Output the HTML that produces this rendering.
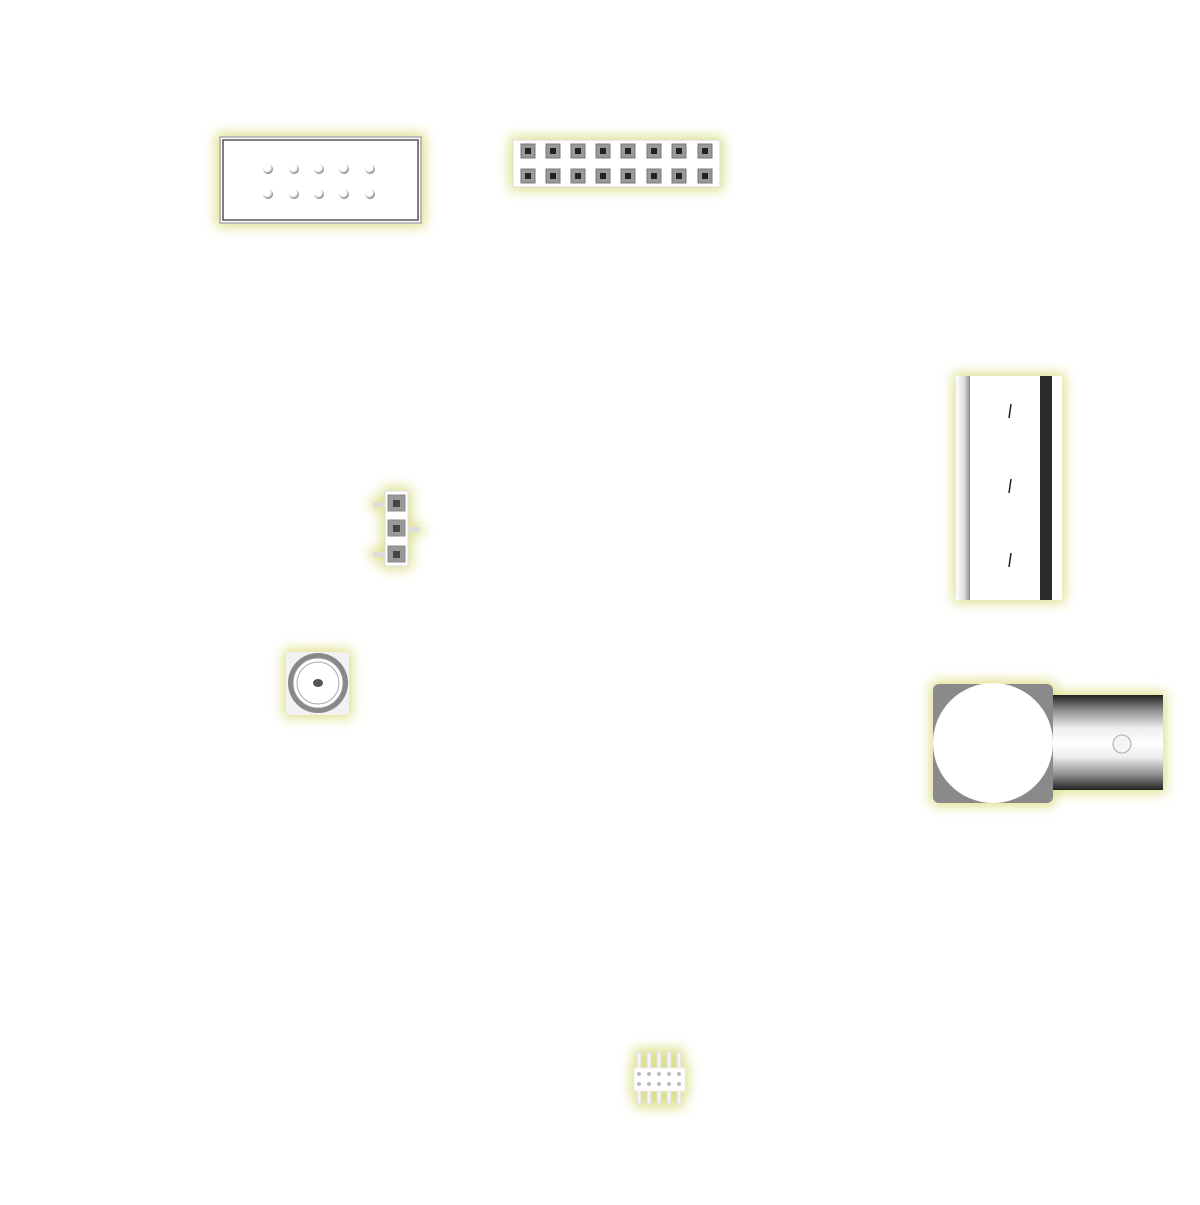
<!DOCTYPE html>
<html><head><style>body{margin:0;background:#fff}</style></head><body>
<svg width="1200" height="1200" xmlns="http://www.w3.org/2000/svg">
<defs>
<filter id="g" x="-30%" y="-30%" width="160%" height="160%">
<feMorphology in="SourceAlpha" operator="dilate" radius="3" result="d"/>
<feGaussianBlur in="d" stdDeviation="6" result="b"/>
<feFlood flood-color="#dde08a"/>
<feComposite in2="b" operator="in" result="s"/>
<feMerge><feMergeNode in="s"/><feMergeNode in="SourceGraphic"/></feMerge>
</filter>
<linearGradient id="tube" x1="0" y1="0" x2="0" y2="1">
<stop offset="0" stop-color="#222"/><stop offset="0.15" stop-color="#888"/><stop offset="0.35" stop-color="#eee"/><stop offset="0.5" stop-color="#fff"/><stop offset="0.65" stop-color="#eee"/><stop offset="0.85" stop-color="#888"/><stop offset="1" stop-color="#222"/>
</linearGradient>
<linearGradient id="lstrip" x1="0" y1="0" x2="1" y2="0">
<stop offset="0" stop-color="#fff"/><stop offset="0.6" stop-color="#ddd"/><stop offset="1" stop-color="#888"/>
</linearGradient>
<radialGradient id="pin" cx="0.4" cy="0.35" r="0.7"><stop offset="0.5" stop-color="#fff"/><stop offset="1" stop-color="#666"/></radialGradient>
</defs>
<!-- IDC -->
<g filter="url(#g)">
<rect x="220" y="137" width="201" height="86" fill="#fff" stroke="#bbb" stroke-width="2"/>
<rect x="223" y="140" width="195" height="80" fill="none" stroke="#555" stroke-width="1.5"/>
<g fill="url(#pin)">
<circle cx="268" cy="169" r="5"/><circle cx="294" cy="169" r="5"/><circle cx="319" cy="169" r="5"/><circle cx="344" cy="169" r="5"/><circle cx="370" cy="169" r="5"/>
<circle cx="268" cy="194" r="5"/><circle cx="294" cy="194" r="5"/><circle cx="319" cy="194" r="5"/><circle cx="344" cy="194" r="5"/><circle cx="370" cy="194" r="5"/>
</g></g>
<!-- 2x8 header -->
<g filter="url(#g)">
<rect x="513" y="140" width="207" height="47" fill="#fff" stroke="#ddd"/>
<g fill="#999" stroke="#777">
<rect x="521" y="144" width="14" height="14"/><rect x="546" y="144" width="14" height="14"/><rect x="571" y="144" width="14" height="14"/><rect x="596" y="144" width="14" height="14"/><rect x="621" y="144" width="14" height="14"/><rect x="647" y="144" width="14" height="14"/><rect x="672" y="144" width="14" height="14"/><rect x="698" y="144" width="14" height="14"/>
<rect x="521" y="169" width="14" height="14"/><rect x="546" y="169" width="14" height="14"/><rect x="571" y="169" width="14" height="14"/><rect x="596" y="169" width="14" height="14"/><rect x="621" y="169" width="14" height="14"/><rect x="647" y="169" width="14" height="14"/><rect x="672" y="169" width="14" height="14"/><rect x="698" y="169" width="14" height="14"/>
</g>
<g fill="#222">
<rect x="525" y="148" width="6" height="6"/><rect x="550" y="148" width="6" height="6"/><rect x="575" y="148" width="6" height="6"/><rect x="600" y="148" width="6" height="6"/><rect x="625" y="148" width="6" height="6"/><rect x="651" y="148" width="6" height="6"/><rect x="676" y="148" width="6" height="6"/><rect x="702" y="148" width="6" height="6"/>
<rect x="525" y="173" width="6" height="6"/><rect x="550" y="173" width="6" height="6"/><rect x="575" y="173" width="6" height="6"/><rect x="600" y="173" width="6" height="6"/><rect x="625" y="173" width="6" height="6"/><rect x="651" y="173" width="6" height="6"/><rect x="676" y="173" width="6" height="6"/><rect x="702" y="173" width="6" height="6"/>
</g></g>
<!-- vertical connector -->
<g filter="url(#g)">
<rect x="956" y="376" width="106" height="224" fill="#fff"/>
<rect x="956" y="376" width="14" height="224" fill="url(#lstrip)"/>
<rect x="1040" y="376" width="12" height="224" fill="#2a2a2a"/>
<g stroke="#222" stroke-width="1.5"><line x1="1011" y1="404" x2="1009" y2="418"/><line x1="1011" y1="479" x2="1009" y2="493"/><line x1="1011" y1="553" x2="1009" y2="567"/></g>
</g>
<!-- 3 pin -->
<g filter="url(#g)">
<rect x="373" y="502" width="12" height="5" fill="#ddd"/><rect x="373" y="552" width="12" height="5" fill="#ddd"/><rect x="408" y="527" width="12" height="5" fill="#ddd"/>
<rect x="385" y="491" width="23" height="75" fill="#fff" stroke="#ddd"/>
<g fill="#999" stroke="#888"><rect x="388" y="495" width="17" height="16"/><rect x="388" y="520" width="17" height="16"/><rect x="388" y="546" width="17" height="16"/></g>
<g fill="#444"><rect x="393" y="500" width="7" height="7"/><rect x="393" y="525" width="7" height="7"/><rect x="393" y="551" width="7" height="7"/></g>
</g>
<!-- SMA -->
<g filter="url(#g)">
<rect x="286" y="652" width="63" height="63" rx="4" fill="#f2f2f2"/>
<circle cx="318" cy="683" r="30" fill="#888"/>
<circle cx="318" cy="683" r="25" fill="#fff" stroke="#999"/>
<circle cx="318" cy="683" r="21" fill="none" stroke="#aaa"/>
<ellipse cx="318" cy="683" rx="5" ry="4" fill="#555"/>
</g>
<!-- BNC -->
<g filter="url(#g)">
<rect x="1053" y="695" width="110" height="95" fill="url(#tube)"/>
<rect x="933" y="684" width="120" height="119" rx="6" fill="#8a8a8a"/>
<circle cx="993" cy="743" r="60" fill="#fff"/>
<circle cx="1122" cy="744" r="9" fill="#f4f4f4" stroke="#aaa"/>
</g>
<!-- small header -->
<g filter="url(#g)">
<g fill="#f4f4f4" stroke="#ddd"><rect x="637" y="1052" width="4" height="52"/><rect x="647" y="1052" width="4" height="52"/><rect x="657" y="1052" width="4" height="52"/><rect x="667" y="1052" width="4" height="52"/><rect x="677" y="1052" width="4" height="52"/></g>
<rect x="634" y="1068" width="51" height="23" fill="#fff" stroke="#eee"/>
<g fill="#bbb"><circle cx="639" cy="1074" r="2"/><circle cx="649" cy="1074" r="2"/><circle cx="659" cy="1074" r="2"/><circle cx="669" cy="1074" r="2"/><circle cx="679" cy="1074" r="2"/><circle cx="639" cy="1084" r="2"/><circle cx="649" cy="1084" r="2"/><circle cx="659" cy="1084" r="2"/><circle cx="669" cy="1084" r="2"/><circle cx="679" cy="1084" r="2"/></g>
</g>
</svg>
</body></html>
